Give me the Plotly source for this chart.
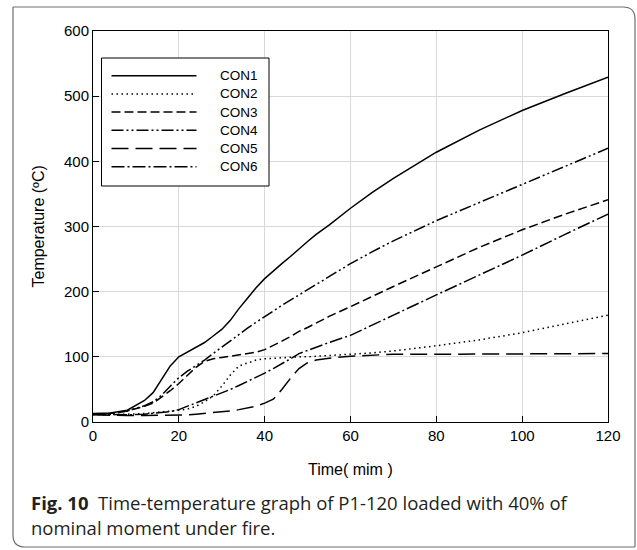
import plotly.graph_objects as go

# ---------------- data ----------------
time_min = [0, 4, 8, 12, 14, 16, 18, 20, 22, 24, 26, 28, 30, 32, 34, 36, 38, 40,
            42, 44, 46, 48, 50, 52, 55, 60, 65, 70, 80, 90, 100, 110, 120]
con1 = [13, 14, 18, 33, 45, 65, 86, 100, 107, 114, 122, 132, 142, 156, 174, 190, 206, 220,
        232, 243, 254, 266, 277, 288, 302, 328, 352, 374, 414, 448, 478, 504, 529]
con2 = [11, 11, 12, 13, 14, 15, 16, 18, 20, 24, 31, 40, 55, 72, 86, 91, 95, 97,
        98, 99, 99, 100, 100, 101, 102, 104, 106, 109, 117, 126, 137, 150, 164]
con3 = [12, 13, 17, 24, 29, 38, 48, 59, 71, 84, 93, 97, 99, 101, 103, 104, 107, 111,
        117, 124, 131, 139, 145, 152, 162, 177, 193, 208, 238, 268, 295, 319, 341]
con4 = [12, 13, 17, 25, 31, 41, 55, 68, 78, 86, 95, 105, 115, 125, 135, 144, 153, 162,
        170, 179, 187, 195, 203, 212, 224, 243, 261, 278, 309, 337, 364, 392, 420]
con5 = [11, 10, 10, 10, 10, 10, 10, 10, 11, 12, 13, 14, 15, 17, 19, 21, 24, 29,
        35, 50, 67, 82, 91, 95, 98, 101, 103, 104, 104, 104, 104, 104, 105]
con6 = [12, 11, 11, 12, 13, 14, 16, 19, 24, 29, 34, 39, 45, 50, 56, 62, 68, 75,
        82, 89, 97, 105, 110, 115, 122, 133, 149, 164, 195, 225, 256, 288, 319]

series_names = ["CON1", "CON2", "CON3", "CON4", "CON5", "CON6"]
series_values = [con1, con2, con3, con4, con5, con6]
dash_styles = ["solid", "1.5px,3.5px", "9px,4px", "12px,3px,2px,3px,2px,3px",
               "17px,7px", "13px,3px,2px,3px"]

x_ticks = [0, 20, 40, 60, 80, 100, 120]
y_ticks = [0, 100, 200, 300, 400, 500, 600]

# ---------------- layout geometry (pixels) ----------------
W, H = 637, 550
PL, PR, PT, PB = 93, 608, 31, 422


def px(x):
    return (x - PL) / (PR - PL)


def py(y):
    return (PB - y) / (PB - PT)


fig = go.Figure()
for name, vals, dash in zip(series_names, series_values, dash_styles):
    fig.add_trace(go.Scatter(x=time_min, y=vals, mode="lines", name=name,
                             line=dict(color="black", width=1.5, dash=dash),
                             showlegend=False))

shapes = []
# outer frame (rounded top-right and bottom-left corners), drawn piecewise
fl, fr, ft, fb, rad = 13, 635, 7, 547, 12
frame_line = dict(color="#6d6e71", width=1.2)


def seg(x0, y0, x1, y1):
    return dict(type="line", xref="paper", yref="paper",
                x0=px(x0), y0=py(y0), x1=px(x1), y1=py(y1), line=frame_line)


shapes.append(seg(fl, ft, fr - rad, ft))          # top
shapes.append(seg(fr, ft + rad, fr, fb))          # right
shapes.append(seg(fr, fb, fl + rad, fb))          # bottom
shapes.append(seg(fl, fb - rad, fl, ft))          # left
shapes.append(dict(type="path", xref="paper", yref="paper", line=frame_line,
                   path=f"M{px(fr - rad)},{py(ft)} Q{px(fr)},{py(ft)} {px(fr)},{py(ft + rad)}"))
shapes.append(dict(type="path", xref="paper", yref="paper", line=frame_line,
                   path=f"M{px(fl + rad)},{py(fb)} Q{px(fl)},{py(fb)} {px(fl)},{py(fb - rad)}"))

# manual legend
lx0, lx1, ly0, ly1 = 101.5, 269, 58, 186
shapes.append(dict(type="rect", xref="paper", yref="paper",
                   x0=px(lx0), x1=px(lx1), y0=py(ly0), y1=py(ly1),
                   line=dict(color="black", width=1), fillcolor="white", layer="above"))
annotations = []
for i, (name, dash) in enumerate(zip(series_names, dash_styles)):
    yy = 75.7 + i * 18.2
    shapes.append(dict(type="line", xref="paper", yref="paper",
                       x0=px(111.5), x1=px(196.5), y0=py(yy), y1=py(yy),
                       line=dict(color="black", width=1.5, dash=dash), layer="above"))
    annotations.append(dict(text=name, xref="paper", yref="paper",
                            x=px(218), y=py(yy), xanchor="left", yanchor="middle",
                            showarrow=False,
                            font=dict(family="Liberation Sans, Arial", size=13.5, color="black")))

# axis titles
annotations.append(dict(text="Temperature (ºC)", xref="paper", yref="paper",
                        x=px(38), y=py((PT + PB) / 2), textangle=-90,
                        xanchor="center", yanchor="middle", showarrow=False,
                        font=dict(family="Liberation Sans, Arial", size=16, color="black")))
annotations.append(dict(text="Time( mim )", xref="paper", yref="paper",
                        x=px((PL + PR) / 2), y=py(470),
                        xanchor="center", yanchor="middle", showarrow=False,
                        font=dict(family="Liberation Sans, Arial", size=16, color="black")))
# caption
annotations.append(dict(text="<b>Fig. 10</b>  Time-temperature graph of P1-120 loaded with 40% of",
                        xref="paper", yref="paper", x=px(29), y=py(502),
                        xanchor="left", yanchor="middle", showarrow=False,
                        font=dict(family="Open Sans", size=18.5, color="#231f20")))
annotations.append(dict(text="nominal moment under fire.",
                        xref="paper", yref="paper", x=px(29), y=py(527),
                        xanchor="left", yanchor="middle", showarrow=False,
                        font=dict(family="Open Sans", size=18.5, color="#231f20")))

axis_common = dict(showgrid=True, gridcolor="#d9d9d9", gridwidth=1,
                   showline=True, linecolor="black", linewidth=1, mirror=True,
                   ticks="inside", ticklen=6, tickwidth=1, tickcolor="black",
                   zeroline=False,
                   tickfont=dict(family="Liberation Sans, Arial", size=15, color="black"))

fig.update_layout(
    width=W, height=H,
    margin=dict(l=PL, r=W - PR, t=PT, b=H - PB),
    paper_bgcolor="white", plot_bgcolor="white",
    xaxis=dict(range=[0, 120], tickvals=x_ticks, **axis_common),
    yaxis=dict(range=[0, 600], tickvals=y_ticks, **axis_common),
    shapes=shapes, annotations=annotations,
)

fig.write_html("out.html", config={"displayModeBar": False},
               post_script="document.body.style.margin='0';document.body.style.overflow='hidden';")
